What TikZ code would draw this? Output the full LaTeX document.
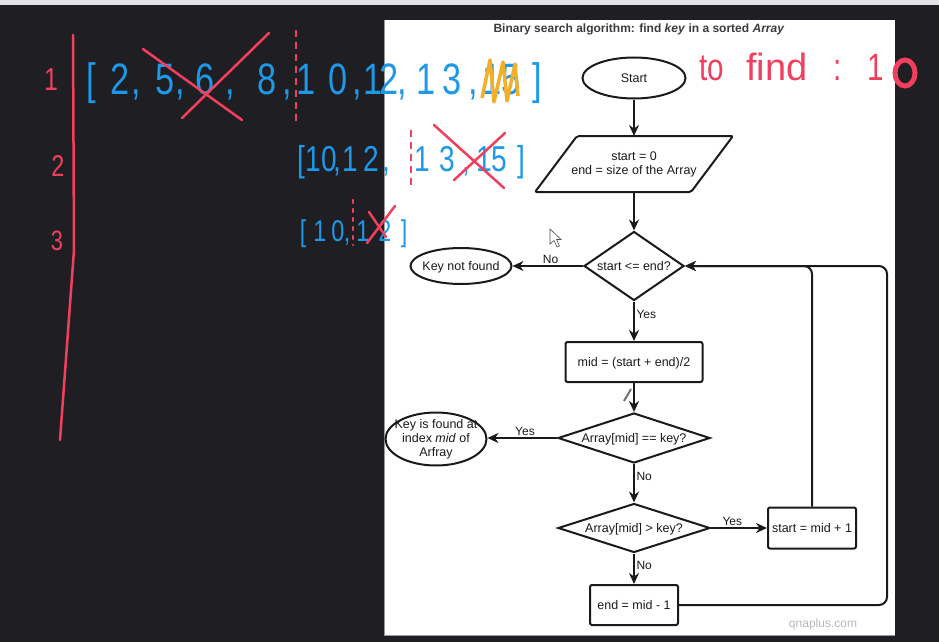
\documentclass[tikz,border=0pt]{standalone}
\usepackage{fontspec}
\usepackage{graphicx}
\setmainfont{Liberation Sans}
\usetikzlibrary{arrows.meta,shapes.geometric}
\definecolor{board}{HTML}{1F1E23}
\definecolor{bar}{HTML}{E4E4E6}
\definecolor{ink}{HTML}{1A1A1A}
\definecolor{penblue}{HTML}{1E98E8}
\definecolor{penred}{HTML}{F0405E}
\definecolor{penorange}{HTML}{F2B02A}
\newcommand{\inlbl}[1]{\smash{\makebox[0pt]{\raisebox{-0.33em}{#1}}}}
\newcommand{\hw}[1]{\scalebox{0.78}[1]{#1}}

\begin{document}
\begin{tikzpicture}[
  x=1pt,y=-1pt,
  flow/.style={draw=ink,line width=2pt,inner sep=0pt,text=ink,
    font=\fontsize{12.5}{14}\selectfont},
  term/.style={flow,ellipse},
  box/.style={flow,rectangle,rounded corners=2pt},
  decision/.style={flow,diamond},
  io/.style={flow,rectangle,draw=none},
  arrow/.style={-{Stealth[length=11pt,width=10pt]},line width=2pt,draw=ink},
  tag/.style={font=\fontsize{12}{13}\selectfont,text=ink,inner sep=1.5pt},
  hand/.style={inner sep=0pt,anchor=base},
  stroke/.style={penred,line width=2.5pt,line cap=round},
  cutline/.style={stroke,line cap=butt,dash pattern=on 7pt off 5pt}
]
\useasboundingbox (0,0) rectangle (939,642);
% screen and sheet
\fill[board] (0,0) rectangle (939,642);
\fill[bar] (0,0) rectangle (939,5);
\fill[white] (384,20) rectangle (895,635);
\draw[black!40,line width=1pt] (384,20) -- (384,635) -- (895,635);

% flowchart
\node[font=\bfseries\fontsize{12}{13}\selectfont,text=ink!85] (title) at (639,29)
  {Binary search algorithm: find \textit{key} in a sorted \textit{Array}};
\node[term,minimum width=103pt,minimum height=41pt] (start) at (634,78) {\inlbl{Start}};
\node[io,minimum width=154pt,minimum height=54pt] (init) at (634,164)
  {\inlbl{\begin{tabular}{@{}c@{}}start = 0\\end = size of the Array\end{tabular}}};
\draw[flow,rounded corners=2pt] ([xshift=21pt]init.north west) -- ([xshift=21pt]init.north east)
  -- ([xshift=-21pt]init.south east) -- ([xshift=-21pt]init.south west) -- cycle;
\node[decision,minimum width=100pt,minimum height=69pt] (cond) at (634,266) {\inlbl{start <= end?}};
\node[term,minimum width=101pt,minimum height=36pt] (notfound) at (461,266) {\inlbl{Key not found}};
\node[box,minimum width=137pt,minimum height=40pt] (mid) at (634,362) {\inlbl{mid = (start + end)/2}};
\node[decision,minimum width=152pt,minimum height=50pt] (eq) at (634,438) {\inlbl{Array[mid] == key?}};
\node[term,minimum width=101pt,minimum height=53pt] (found) at (436,439)
  {\inlbl{\begin{tabular}{@{}c@{}}Key is found at\\index \textit{mid} of\\Arfray\end{tabular}}};
\node[decision,minimum width=152pt,minimum height=49pt] (gt) at (634,528) {\inlbl{Array[mid] > key?}};
\node[box,minimum width=88pt,minimum height=41pt] (inc) at (812,528) {\inlbl{start = mid + 1}};
\node[box,minimum width=88pt,minimum height=40pt] (dec) at (634,605) {\inlbl{end = mid - 1}};
\coordinate (loopc) at (887,605);
\node[text=black!28,font=\fontsize{12}{13}\selectfont] (credit) at (823,624) {qnaplus.com};

\draw[arrow] (start) -- (init);
\draw[arrow] (init) -- (cond);
\draw[arrow] (cond) -- node[tag,above,pos=0.46] (lno1) {No} (notfound);
\draw[arrow] (cond) -- node[tag,right,pos=0.33] (lyes1) {Yes} (mid);
\draw[arrow] (mid) -- (eq);
\draw[arrow] (eq.west) -- node[tag,above,pos=0.46] (lyes2) {Yes} (eq.west -| found.east);
\draw[arrow] (eq) -- node[tag,right,pos=0.32] (lno2) {No} (gt);
\draw[arrow] (gt) -- node[tag,above,pos=0.38] (lyes3) {Yes} (inc);
\draw[arrow] (gt) -- node[tag,right,pos=0.4] (lno3) {No} (dec);
\draw[arrow,rounded corners=8pt] (inc) |- (cond);
\draw[arrow,rounded corners=8pt] (dec) -- (loopc) |- (cond);

% pointer and pen
\draw[black!70,fill=white,line width=0.6pt] (550,229) -- (550,244) -- (554,240.5) -- (557,247)
  -- (559.5,246) -- (556.5,239.5) -- (561,239.5) -- cycle;
\draw[black!55,line width=2pt] (624,401) -- (631,389);

% handwriting
\draw[stroke] (73,35) -- (74,250) -- (60,440);
\node[hand,text=penred,font=\fontsize{32}{32}\selectfont] (n1) at (51,90) {\hw{1}};
\node[hand,text=penred,font=\fontsize{30}{30}\selectfont] (n2) at (58,176) {\hw{2}};
\node[hand,text=penred,font=\fontsize{28}{28}\selectfont] (n3) at (57,250) {\hw{3}};
\foreach \c/\x [count=\i] in {{[}/91,2/120,{,}/136,5/165,{,}/180,6/205,{,}/230,8/267,{,}/287,
    1/306,0/338,{,}/357,1/373,2/389,{,}/402,1/426,3/452,{,}/473,1/492,5/511,{]}/537}
  \node[hand,text=penblue,font=\fontsize{44}{44}\selectfont] (r1-\i) at (\x,94) {\hw{\c}};
\foreach \c/\x [count=\i] in {{[}/301,1/313,0/329,{,}/337,1/350,2/371,{,}/386,1/422,3/447,
    {,}/466,1/484,5/499,{]}/521}
  \node[hand,text=penblue,font=\fontsize{36}{36}\selectfont] (r2-\i) at (\x,171) {\hw{\c}};
\foreach \c/\x [count=\i] in {{[}/303,1/320,0/338,{,}/347,1/363,2/385,{]}/404}
  \node[hand,text=penblue,font=\fontsize{30}{30}\selectfont] (r3-\i) at (\x,241) {\hw{\c}};
\draw[penorange,line width=3.5pt,line join=round] (482,98) -- (490,60) -- (494,102) -- (503,62)
  -- (507,101) -- (515,64) -- (518,96);
\draw[cutline] (296,30) -- (296,125);
\draw[cutline] (411,130) -- (411,190);
\draw[stroke,dash pattern=on 3pt off 6pt] (353,200) -- (353,245);
\draw[stroke] (143,49) -- (242,120);
\draw[stroke] (182,118) -- (269,33);
\draw[stroke] (434,125) -- (504,188);
\draw[stroke] (454,180) -- (505,133);
\draw[stroke] (367,243) -- (395,206);
\draw[stroke] (369,212) -- (386,237);
\node[hand,text=penred,font=\fontsize{38}{38}\selectfont] (tofind) at (712,80) {\hw{to}};
\node[hand,text=penred,font=\fontsize{38}{38}\selectfont] (find) at (777,80) {find};
\node[hand,text=penred,font=\fontsize{38}{38}\selectfont] (colon) at (838,80) {\hw{:}};
\node[hand,text=penred,font=\fontsize{38}{38}\selectfont] (one) at (876,80) {\hw{1}};
\draw[penred,line width=5pt] (905,73) ellipse [x radius=10,y radius=13];
\end{tikzpicture}
\end{document}
